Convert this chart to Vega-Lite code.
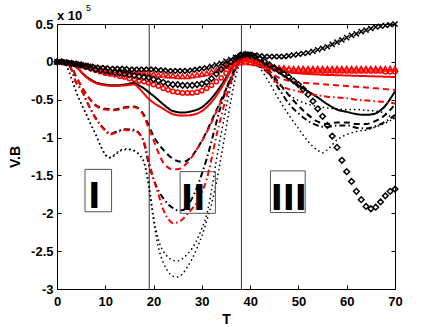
{
"$schema":"https://vega.github.io/schema/vega-lite/v6.json",
"width":338,"height":265,
"autosize":{"type":"none"},
"padding":{"left":57,"top":24,"right":41,"bottom":38},
"background":"white",
"config":{"view":{"stroke":"black","strokeWidth":1},"font":"Liberation Sans"},
"datasets":{
"lines":[
{"s":"ks","x":0,"y":0},{"s":"ks","x":2,"y":-0.01},{"s":"ks","x":4,"y":-0.07},{"s":"ks","x":6,"y":-0.19},{"s":"ks","x":8,"y":-0.27},{"s":"ks","x":10,"y":-0.3},{"s":"ks","x":12,"y":-0.31},{"s":"ks","x":14,"y":-0.3},{"s":"ks","x":16,"y":-0.28},{"s":"ks","x":17,"y":-0.31},{"s":"ks","x":18,"y":-0.35},{"s":"ks","x":19,"y":-0.4},{"s":"ks","x":20,"y":-0.45},{"s":"ks","x":22,"y":-0.56},{"s":"ks","x":24,"y":-0.65},{"s":"ks","x":26,"y":-0.67},{"s":"ks","x":28,"y":-0.65},{"s":"ks","x":30,"y":-0.6},{"s":"ks","x":32,"y":-0.48},{"s":"ks","x":34,"y":-0.31},{"s":"ks","x":36,"y":-0.1},{"s":"ks","x":37,"y":0.02},{"s":"ks","x":38,"y":0.08},{"s":"ks","x":39,"y":0.1},{"s":"ks","x":40,"y":0.09},{"s":"ks","x":42,"y":0.02},{"s":"ks","x":44,"y":-0.05},{"s":"ks","x":46,"y":-0.14},{"s":"ks","x":48,"y":-0.23},{"s":"ks","x":50,"y":-0.31},{"s":"ks","x":52,"y":-0.39},{"s":"ks","x":54,"y":-0.47},{"s":"ks","x":56,"y":-0.56},{"s":"ks","x":58,"y":-0.63},{"s":"ks","x":60,"y":-0.66},{"s":"ks","x":62,"y":-0.69},{"s":"ks","x":64,"y":-0.7},{"s":"ks","x":66,"y":-0.68},{"s":"ks","x":67,"y":-0.64},{"s":"ks","x":68,"y":-0.58},{"s":"ks","x":69,"y":-0.49},{"s":"ks","x":70,"y":-0.39},
{"s":"rs","x":0,"y":0},{"s":"rs","x":2,"y":-0.01},{"s":"rs","x":4,"y":-0.07},{"s":"rs","x":6,"y":-0.2},{"s":"rs","x":8,"y":-0.28},{"s":"rs","x":10,"y":-0.31},{"s":"rs","x":12,"y":-0.32},{"s":"rs","x":14,"y":-0.31},{"s":"rs","x":16,"y":-0.3},{"s":"rs","x":17,"y":-0.35},{"s":"rs","x":18,"y":-0.42},{"s":"rs","x":19,"y":-0.49},{"s":"rs","x":20,"y":-0.54},{"s":"rs","x":22,"y":-0.62},{"s":"rs","x":24,"y":-0.69},{"s":"rs","x":26,"y":-0.71},{"s":"rs","x":28,"y":-0.7},{"s":"rs","x":30,"y":-0.65},{"s":"rs","x":32,"y":-0.53},{"s":"rs","x":34,"y":-0.35},{"s":"rs","x":36,"y":-0.12},{"s":"rs","x":37,"y":0},{"s":"rs","x":38,"y":0.05},{"s":"rs","x":39,"y":0.06},{"s":"rs","x":40,"y":0.04},{"s":"rs","x":42,"y":-0.02},{"s":"rs","x":44,"y":-0.08},{"s":"rs","x":46,"y":-0.12},{"s":"rs","x":50,"y":-0.15},{"s":"rs","x":55,"y":-0.17},{"s":"rs","x":60,"y":-0.18},{"s":"rs","x":65,"y":-0.19},{"s":"rs","x":70,"y":-0.2},
{"s":"kd","x":0,"y":0},{"s":"kd","x":2,"y":-0.02},{"s":"kd","x":3,"y":-0.07},{"s":"kd","x":4,"y":-0.2},{"s":"kd","x":6,"y":-0.42},{"s":"kd","x":8,"y":-0.57},{"s":"kd","x":10,"y":-0.62},{"s":"kd","x":12,"y":-0.63},{"s":"kd","x":14,"y":-0.6},{"s":"kd","x":16,"y":-0.59},{"s":"kd","x":17,"y":-0.62},{"s":"kd","x":18,"y":-0.7},{"s":"kd","x":19,"y":-0.84},{"s":"kd","x":20,"y":-0.98},{"s":"kd","x":22,"y":-1.16},{"s":"kd","x":24,"y":-1.28},{"s":"kd","x":26,"y":-1.32},{"s":"kd","x":27,"y":-1.3},{"s":"kd","x":28,"y":-1.24},{"s":"kd","x":29,"y":-1.15},{"s":"kd","x":30,"y":-1.04},{"s":"kd","x":31,"y":-0.92},{"s":"kd","x":32,"y":-0.78},{"s":"kd","x":33,"y":-0.64},{"s":"kd","x":34,"y":-0.5},{"s":"kd","x":35,"y":-0.36},{"s":"kd","x":36,"y":-0.22},{"s":"kd","x":37,"y":-0.08},{"s":"kd","x":38,"y":0.04},{"s":"kd","x":40,"y":0.08},{"s":"kd","x":42,"y":0},{"s":"kd","x":44,"y":-0.12},{"s":"kd","x":46,"y":-0.28},{"s":"kd","x":48,"y":-0.44},{"s":"kd","x":50,"y":-0.58},{"s":"kd","x":52,"y":-0.7},{"s":"kd","x":54,"y":-0.79},{"s":"kd","x":56,"y":-0.82},{"s":"kd","x":58,"y":-0.8},{"s":"kd","x":60,"y":-0.8},{"s":"kd","x":62,"y":-0.82},{"s":"kd","x":64,"y":-0.82},{"s":"kd","x":66,"y":-0.78},{"s":"kd","x":68,"y":-0.7},{"s":"kd","x":70,"y":-0.56},
{"s":"rd","x":0,"y":0},{"s":"rd","x":2,"y":-0.02},{"s":"rd","x":3,"y":-0.07},{"s":"rd","x":4,"y":-0.2},{"s":"rd","x":6,"y":-0.42},{"s":"rd","x":8,"y":-0.58},{"s":"rd","x":10,"y":-0.63},{"s":"rd","x":12,"y":-0.64},{"s":"rd","x":14,"y":-0.61},{"s":"rd","x":16,"y":-0.6},{"s":"rd","x":17,"y":-0.63},{"s":"rd","x":18,"y":-0.72},{"s":"rd","x":19,"y":-0.88},{"s":"rd","x":20,"y":-1.03},{"s":"rd","x":21,"y":-1.2},{"s":"rd","x":22,"y":-1.33},{"s":"rd","x":24,"y":-1.42},{"s":"rd","x":25,"y":-1.42},{"s":"rd","x":26,"y":-1.39},{"s":"rd","x":27,"y":-1.33},{"s":"rd","x":28,"y":-1.25},{"s":"rd","x":29,"y":-1.15},{"s":"rd","x":30,"y":-1.05},{"s":"rd","x":31,"y":-0.93},{"s":"rd","x":32,"y":-0.8},{"s":"rd","x":33,"y":-0.66},{"s":"rd","x":34,"y":-0.52},{"s":"rd","x":35,"y":-0.38},{"s":"rd","x":36,"y":-0.23},{"s":"rd","x":37,"y":-0.09},{"s":"rd","x":38,"y":0.03},{"s":"rd","x":40,"y":0.04},{"s":"rd","x":42,"y":-0.04},{"s":"rd","x":44,"y":-0.14},{"s":"rd","x":46,"y":-0.21},{"s":"rd","x":48,"y":-0.25},{"s":"rd","x":50,"y":-0.27},{"s":"rd","x":54,"y":-0.29},{"s":"rd","x":58,"y":-0.31},{"s":"rd","x":62,"y":-0.33},{"s":"rd","x":66,"y":-0.35},{"s":"rd","x":70,"y":-0.37},
{"s":"kdd","x":0,"y":0},{"s":"kdd","x":2,"y":-0.03},{"s":"kdd","x":3,"y":-0.1},{"s":"kdd","x":4,"y":-0.28},{"s":"kdd","x":5,"y":-0.36},{"s":"kdd","x":6,"y":-0.5},{"s":"kdd","x":8,"y":-0.74},{"s":"kdd","x":10,"y":-0.9},{"s":"kdd","x":11,"y":-0.95},{"s":"kdd","x":12,"y":-0.93},{"s":"kdd","x":14,"y":-0.89},{"s":"kdd","x":16,"y":-0.9},{"s":"kdd","x":17,"y":-0.94},{"s":"kdd","x":18,"y":-1.07},{"s":"kdd","x":19,"y":-1.35},{"s":"kdd","x":20,"y":-1.55},{"s":"kdd","x":21,"y":-1.7},{"s":"kdd","x":22,"y":-1.8},{"s":"kdd","x":23,"y":-1.88},{"s":"kdd","x":24,"y":-1.93},{"s":"kdd","x":25,"y":-1.96},{"s":"kdd","x":26,"y":-1.96},{"s":"kdd","x":27,"y":-1.9},{"s":"kdd","x":28,"y":-1.8},{"s":"kdd","x":29,"y":-1.66},{"s":"kdd","x":30,"y":-1.48},{"s":"kdd","x":31,"y":-1.28},{"s":"kdd","x":32,"y":-1.05},{"s":"kdd","x":33,"y":-0.8},{"s":"kdd","x":34,"y":-0.57},{"s":"kdd","x":35,"y":-0.37},{"s":"kdd","x":36,"y":-0.2},{"s":"kdd","x":37,"y":-0.07},{"s":"kdd","x":38,"y":0.04},{"s":"kdd","x":40,"y":0.08},{"s":"kdd","x":42,"y":-0.02},{"s":"kdd","x":44,"y":-0.16},{"s":"kdd","x":46,"y":-0.36},{"s":"kdd","x":48,"y":-0.55},{"s":"kdd","x":50,"y":-0.68},{"s":"kdd","x":52,"y":-0.78},{"s":"kdd","x":54,"y":-0.84},{"s":"kdd","x":56,"y":-0.86},{"s":"kdd","x":58,"y":-0.84},{"s":"kdd","x":60,"y":-0.84},{"s":"kdd","x":62,"y":-0.87},{"s":"kdd","x":64,"y":-0.88},{"s":"kdd","x":66,"y":-0.85},{"s":"kdd","x":68,"y":-0.79},{"s":"kdd","x":70,"y":-0.7},
{"s":"rdd","x":0,"y":0},{"s":"rdd","x":2,"y":-0.03},{"s":"rdd","x":3,"y":-0.1},{"s":"rdd","x":4,"y":-0.28},{"s":"rdd","x":5,"y":-0.36},{"s":"rdd","x":6,"y":-0.5},{"s":"rdd","x":8,"y":-0.75},{"s":"rdd","x":10,"y":-0.91},{"s":"rdd","x":11,"y":-0.96},{"s":"rdd","x":12,"y":-0.94},{"s":"rdd","x":14,"y":-0.9},{"s":"rdd","x":16,"y":-0.91},{"s":"rdd","x":17,"y":-0.95},{"s":"rdd","x":18,"y":-1.05},{"s":"rdd","x":19,"y":-1.3},{"s":"rdd","x":20,"y":-1.55},{"s":"rdd","x":21,"y":-1.75},{"s":"rdd","x":22,"y":-1.95},{"s":"rdd","x":23,"y":-2.07},{"s":"rdd","x":24,"y":-2.13},{"s":"rdd","x":25,"y":-2.12},{"s":"rdd","x":26,"y":-2.08},{"s":"rdd","x":27,"y":-2.01},{"s":"rdd","x":28,"y":-1.94},{"s":"rdd","x":29,"y":-1.85},{"s":"rdd","x":30,"y":-1.72},{"s":"rdd","x":31,"y":-1.55},{"s":"rdd","x":32,"y":-1.28},{"s":"rdd","x":33,"y":-0.98},{"s":"rdd","x":34,"y":-0.72},{"s":"rdd","x":35,"y":-0.48},{"s":"rdd","x":36,"y":-0.27},{"s":"rdd","x":37,"y":-0.1},{"s":"rdd","x":38,"y":0.02},{"s":"rdd","x":40,"y":0.04},{"s":"rdd","x":42,"y":-0.05},{"s":"rdd","x":44,"y":-0.17},{"s":"rdd","x":46,"y":-0.3},{"s":"rdd","x":48,"y":-0.36},{"s":"rdd","x":50,"y":-0.39},{"s":"rdd","x":52,"y":-0.42},{"s":"rdd","x":54,"y":-0.44},{"s":"rdd","x":56,"y":-0.46},{"s":"rdd","x":58,"y":-0.47},{"s":"rdd","x":60,"y":-0.48},{"s":"rdd","x":62,"y":-0.5},{"s":"rdd","x":64,"y":-0.51},{"s":"rdd","x":66,"y":-0.52},{"s":"rdd","x":68,"y":-0.53},{"s":"rdd","x":70,"y":-0.55},
{"s":"kdt","x":0,"y":0},{"s":"kdt","x":1,"y":-0.01},{"s":"kdt","x":2,"y":-0.06},{"s":"kdt","x":3,"y":-0.22},{"s":"kdt","x":4,"y":-0.4},{"s":"kdt","x":5,"y":-0.55},{"s":"kdt","x":6,"y":-0.68},{"s":"kdt","x":7,"y":-0.82},{"s":"kdt","x":8,"y":-0.95},{"s":"kdt","x":9,"y":-1.1},{"s":"kdt","x":10,"y":-1.22},{"s":"kdt","x":11,"y":-1.26},{"s":"kdt","x":12,"y":-1.22},{"s":"kdt","x":13,"y":-1.17},{"s":"kdt","x":14,"y":-1.15},{"s":"kdt","x":15,"y":-1.15},{"s":"kdt","x":16,"y":-1.17},{"s":"kdt","x":17,"y":-1.22},{"s":"kdt","x":18,"y":-1.32},{"s":"kdt","x":19,"y":-1.6},{"s":"kdt","x":20,"y":-2.05},{"s":"kdt","x":21,"y":-2.35},{"s":"kdt","x":22,"y":-2.5},{"s":"kdt","x":23,"y":-2.58},{"s":"kdt","x":24,"y":-2.62},{"s":"kdt","x":25,"y":-2.63},{"s":"kdt","x":26,"y":-2.6},{"s":"kdt","x":27,"y":-2.54},{"s":"kdt","x":28,"y":-2.46},{"s":"kdt","x":29,"y":-2.35},{"s":"kdt","x":30,"y":-2.2},{"s":"kdt","x":31,"y":-2.02},{"s":"kdt","x":32,"y":-1.7},{"s":"kdt","x":33,"y":-1.3},{"s":"kdt","x":34,"y":-0.95},{"s":"kdt","x":35,"y":-0.62},{"s":"kdt","x":36,"y":-0.32},{"s":"kdt","x":37,"y":-0.1},{"s":"kdt","x":38,"y":0.03},{"s":"kdt","x":39,"y":0.07},{"s":"kdt","x":40,"y":0.05},{"s":"kdt","x":42,"y":-0.08},{"s":"kdt","x":44,"y":-0.28},{"s":"kdt","x":46,"y":-0.5},{"s":"kdt","x":48,"y":-0.7},{"s":"kdt","x":50,"y":-0.88},{"s":"kdt","x":52,"y":-1.05},{"s":"kdt","x":54,"y":-1.17},{"s":"kdt","x":55,"y":-1.2},{"s":"kdt","x":56,"y":-1.16},{"s":"kdt","x":58,"y":-1.03},{"s":"kdt","x":60,"y":-0.96},{"s":"kdt","x":62,"y":-0.92},{"s":"kdt","x":64,"y":-0.9},{"s":"kdt","x":66,"y":-0.86},{"s":"kdt","x":68,"y":-0.81},{"s":"kdt","x":70,"y":-0.74},
{"s":"rdt","x":0,"y":0},{"s":"rdt","x":1,"y":-0.01},{"s":"rdt","x":2,"y":-0.06},{"s":"rdt","x":3,"y":-0.22},{"s":"rdt","x":4,"y":-0.4},{"s":"rdt","x":5,"y":-0.55},{"s":"rdt","x":6,"y":-0.69},{"s":"rdt","x":7,"y":-0.83},{"s":"rdt","x":8,"y":-0.96},{"s":"rdt","x":9,"y":-1.11},{"s":"rdt","x":10,"y":-1.23},{"s":"rdt","x":11,"y":-1.27},{"s":"rdt","x":12,"y":-1.23},{"s":"rdt","x":13,"y":-1.18},{"s":"rdt","x":14,"y":-1.16},{"s":"rdt","x":15,"y":-1.16},{"s":"rdt","x":16,"y":-1.18},{"s":"rdt","x":17,"y":-1.23},{"s":"rdt","x":18,"y":-1.33},{"s":"rdt","x":19,"y":-1.65},{"s":"rdt","x":20,"y":-2.1},{"s":"rdt","x":21,"y":-2.45},{"s":"rdt","x":22,"y":-2.65},{"s":"rdt","x":23,"y":-2.77},{"s":"rdt","x":24,"y":-2.83},{"s":"rdt","x":25,"y":-2.84},{"s":"rdt","x":26,"y":-2.8},{"s":"rdt","x":27,"y":-2.71},{"s":"rdt","x":28,"y":-2.6},{"s":"rdt","x":29,"y":-2.46},{"s":"rdt","x":30,"y":-2.3},{"s":"rdt","x":31,"y":-2.1},{"s":"rdt","x":32,"y":-1.88},{"s":"rdt","x":33,"y":-1.6},{"s":"rdt","x":34,"y":-1.25},{"s":"rdt","x":35,"y":-0.88},{"s":"rdt","x":36,"y":-0.52},{"s":"rdt","x":37,"y":-0.2},{"s":"rdt","x":38,"y":0},{"s":"rdt","x":39,"y":0.05},{"s":"rdt","x":40,"y":0.04},{"s":"rdt","x":42,"y":-0.06},{"s":"rdt","x":44,"y":-0.16},{"s":"rdt","x":46,"y":-0.3},{"s":"rdt","x":48,"y":-0.43},{"s":"rdt","x":50,"y":-0.51},{"s":"rdt","x":52,"y":-0.56},{"s":"rdt","x":54,"y":-0.59},{"s":"rdt","x":56,"y":-0.61},{"s":"rdt","x":58,"y":-0.62},{"s":"rdt","x":60,"y":-0.63},{"s":"rdt","x":62,"y":-0.63},{"s":"rdt","x":64,"y":-0.64},{"s":"rdt","x":66,"y":-0.65},{"s":"rdt","x":68,"y":-0.68},{"s":"rdt","x":69,"y":-0.72},{"s":"rdt","x":70,"y":-0.76}
],
"markers":[
{"s":"rtri","x":0,"y":0},{"s":"rtri","x":1,"y":0},{"s":"rtri","x":2,"y":-0.01},{"s":"rtri","x":3,"y":-0.02},{"s":"rtri","x":4,"y":-0.03},{"s":"rtri","x":5,"y":-0.04},{"s":"rtri","x":6,"y":-0.05},{"s":"rtri","x":7,"y":-0.06},{"s":"rtri","x":8,"y":-0.08},{"s":"rtri","x":9,"y":-0.09},{"s":"rtri","x":10,"y":-0.1},{"s":"rtri","x":11,"y":-0.11},{"s":"rtri","x":12,"y":-0.11},{"s":"rtri","x":13,"y":-0.12},{"s":"rtri","x":14,"y":-0.12},{"s":"rtri","x":15,"y":-0.13},{"s":"rtri","x":16,"y":-0.13},{"s":"rtri","x":17,"y":-0.14},{"s":"rtri","x":18,"y":-0.15},{"s":"rtri","x":19,"y":-0.15},{"s":"rtri","x":20,"y":-0.16},{"s":"rtri","x":21,"y":-0.17},{"s":"rtri","x":22,"y":-0.17},{"s":"rtri","x":23,"y":-0.18},{"s":"rtri","x":24,"y":-0.18},{"s":"rtri","x":25,"y":-0.19},{"s":"rtri","x":26,"y":-0.19},{"s":"rtri","x":27,"y":-0.19},{"s":"rtri","x":28,"y":-0.18},{"s":"rtri","x":29,"y":-0.17},{"s":"rtri","x":30,"y":-0.16},{"s":"rtri","x":31,"y":-0.15},{"s":"rtri","x":32,"y":-0.13},{"s":"rtri","x":33,"y":-0.11},{"s":"rtri","x":34,"y":-0.08},{"s":"rtri","x":35,"y":-0.06},{"s":"rtri","x":36,"y":-0.04},{"s":"rtri","x":37,"y":-0.02},{"s":"rtri","x":38,"y":-0.01},{"s":"rtri","x":39,"y":0},{"s":"rtri","x":40,"y":-0.01},{"s":"rtri","x":41,"y":-0.02},{"s":"rtri","x":42,"y":-0.03},{"s":"rtri","x":43,"y":-0.05},{"s":"rtri","x":44,"y":-0.06},{"s":"rtri","x":45,"y":-0.07},{"s":"rtri","x":46,"y":-0.08},{"s":"rtri","x":47,"y":-0.08},{"s":"rtri","x":48,"y":-0.09},{"s":"rtri","x":49,"y":-0.09},{"s":"rtri","x":50,"y":-0.09},{"s":"rtri","x":51,"y":-0.09},{"s":"rtri","x":52,"y":-0.09},{"s":"rtri","x":53,"y":-0.09},{"s":"rtri","x":54,"y":-0.09},{"s":"rtri","x":55,"y":-0.09},{"s":"rtri","x":56,"y":-0.09},{"s":"rtri","x":57,"y":-0.09},{"s":"rtri","x":58,"y":-0.09},{"s":"rtri","x":59,"y":-0.09},{"s":"rtri","x":60,"y":-0.09},{"s":"rtri","x":61,"y":-0.09},{"s":"rtri","x":62,"y":-0.09},{"s":"rtri","x":63,"y":-0.09},{"s":"rtri","x":64,"y":-0.09},{"s":"rtri","x":65,"y":-0.09},{"s":"rtri","x":66,"y":-0.09},{"s":"rtri","x":67,"y":-0.09},{"s":"rtri","x":68,"y":-0.09},{"s":"rtri","x":69,"y":-0.09},{"s":"rtri","x":70,"y":-0.09},
{"s":"rcirc","x":0,"y":0},{"s":"rcirc","x":1,"y":0},{"s":"rcirc","x":2,"y":-0.01},{"s":"rcirc","x":3,"y":-0.02},{"s":"rcirc","x":4,"y":-0.03},{"s":"rcirc","x":5,"y":-0.05},{"s":"rcirc","x":6,"y":-0.07},{"s":"rcirc","x":7,"y":-0.09},{"s":"rcirc","x":8,"y":-0.11},{"s":"rcirc","x":9,"y":-0.13},{"s":"rcirc","x":10,"y":-0.15},{"s":"rcirc","x":11,"y":-0.16},{"s":"rcirc","x":12,"y":-0.17},{"s":"rcirc","x":13,"y":-0.19},{"s":"rcirc","x":14,"y":-0.2},{"s":"rcirc","x":15,"y":-0.22},{"s":"rcirc","x":16,"y":-0.23},{"s":"rcirc","x":17,"y":-0.25},{"s":"rcirc","x":18,"y":-0.26},{"s":"rcirc","x":19,"y":-0.28},{"s":"rcirc","x":20,"y":-0.3},{"s":"rcirc","x":21,"y":-0.32},{"s":"rcirc","x":22,"y":-0.35},{"s":"rcirc","x":23,"y":-0.37},{"s":"rcirc","x":24,"y":-0.39},{"s":"rcirc","x":25,"y":-0.4},{"s":"rcirc","x":26,"y":-0.41},{"s":"rcirc","x":27,"y":-0.41},{"s":"rcirc","x":28,"y":-0.41},{"s":"rcirc","x":29,"y":-0.4},{"s":"rcirc","x":30,"y":-0.38},{"s":"rcirc","x":31,"y":-0.35},{"s":"rcirc","x":32,"y":-0.31},{"s":"rcirc","x":33,"y":-0.26},{"s":"rcirc","x":34,"y":-0.21},{"s":"rcirc","x":35,"y":-0.15},{"s":"rcirc","x":36,"y":-0.09},{"s":"rcirc","x":37,"y":-0.03},{"s":"rcirc","x":38,"y":0.02},{"s":"rcirc","x":39,"y":0.03},{"s":"rcirc","x":40,"y":0.02},{"s":"rcirc","x":41,"y":0},{"s":"rcirc","x":42,"y":-0.03},{"s":"rcirc","x":43,"y":-0.05},{"s":"rcirc","x":44,"y":-0.07},{"s":"rcirc","x":45,"y":-0.09},{"s":"rcirc","x":46,"y":-0.1},{"s":"rcirc","x":47,"y":-0.11},{"s":"rcirc","x":48,"y":-0.11},{"s":"rcirc","x":49,"y":-0.12},{"s":"rcirc","x":50,"y":-0.12},{"s":"rcirc","x":51,"y":-0.12},{"s":"rcirc","x":52,"y":-0.12},{"s":"rcirc","x":53,"y":-0.12},{"s":"rcirc","x":54,"y":-0.12},{"s":"rcirc","x":55,"y":-0.12},{"s":"rcirc","x":56,"y":-0.12},{"s":"rcirc","x":57,"y":-0.12},{"s":"rcirc","x":58,"y":-0.12},{"s":"rcirc","x":59,"y":-0.12},{"s":"rcirc","x":60,"y":-0.12},{"s":"rcirc","x":61,"y":-0.12},{"s":"rcirc","x":62,"y":-0.12},{"s":"rcirc","x":63,"y":-0.12},{"s":"rcirc","x":64,"y":-0.12},{"s":"rcirc","x":65,"y":-0.12},{"s":"rcirc","x":66,"y":-0.12},{"s":"rcirc","x":67,"y":-0.12},{"s":"rcirc","x":68,"y":-0.13},{"s":"rcirc","x":69,"y":-0.13},{"s":"rcirc","x":70,"y":-0.13},
{"s":"kdia","x":0,"y":0},{"s":"kdia","x":1,"y":0},{"s":"kdia","x":2,"y":-0.01},{"s":"kdia","x":3,"y":-0.02},{"s":"kdia","x":4,"y":-0.03},{"s":"kdia","x":5,"y":-0.04},{"s":"kdia","x":6,"y":-0.06},{"s":"kdia","x":7,"y":-0.08},{"s":"kdia","x":8,"y":-0.1},{"s":"kdia","x":9,"y":-0.11},{"s":"kdia","x":10,"y":-0.12},{"s":"kdia","x":11,"y":-0.13},{"s":"kdia","x":12,"y":-0.14},{"s":"kdia","x":13,"y":-0.15},{"s":"kdia","x":14,"y":-0.16},{"s":"kdia","x":15,"y":-0.17},{"s":"kdia","x":16,"y":-0.18},{"s":"kdia","x":17,"y":-0.19},{"s":"kdia","x":18,"y":-0.2},{"s":"kdia","x":19,"y":-0.21},{"s":"kdia","x":20,"y":-0.23},{"s":"kdia","x":21,"y":-0.25},{"s":"kdia","x":22,"y":-0.27},{"s":"kdia","x":23,"y":-0.29},{"s":"kdia","x":24,"y":-0.3},{"s":"kdia","x":25,"y":-0.3},{"s":"kdia","x":26,"y":-0.31},{"s":"kdia","x":27,"y":-0.31},{"s":"kdia","x":28,"y":-0.31},{"s":"kdia","x":29,"y":-0.3},{"s":"kdia","x":30,"y":-0.29},{"s":"kdia","x":31,"y":-0.27},{"s":"kdia","x":32,"y":-0.22},{"s":"kdia","x":33,"y":-0.16},{"s":"kdia","x":34,"y":-0.1},{"s":"kdia","x":35,"y":-0.04},{"s":"kdia","x":36,"y":0},{"s":"kdia","x":37,"y":0.05},{"s":"kdia","x":38,"y":0.09},{"s":"kdia","x":39,"y":0.1},{"s":"kdia","x":40,"y":0.09},{"s":"kdia","x":41,"y":0.07},{"s":"kdia","x":42,"y":0.04},{"s":"kdia","x":43,"y":0},{"s":"kdia","x":44,"y":-0.04},{"s":"kdia","x":45,"y":-0.08},{"s":"kdia","x":46,"y":-0.12},{"s":"kdia","x":47,"y":-0.16},{"s":"kdia","x":48,"y":-0.2},{"s":"kdia","x":49,"y":-0.25},{"s":"kdia","x":50,"y":-0.3},{"s":"kdia","x":51,"y":-0.36},{"s":"kdia","x":52,"y":-0.43},{"s":"kdia","x":53,"y":-0.52},{"s":"kdia","x":54,"y":-0.62},{"s":"kdia","x":55,"y":-0.72},{"s":"kdia","x":56,"y":-0.84},{"s":"kdia","x":57,"y":-0.98},{"s":"kdia","x":58,"y":-1.13},{"s":"kdia","x":59,"y":-1.3},{"s":"kdia","x":60,"y":-1.45},{"s":"kdia","x":61,"y":-1.58},{"s":"kdia","x":62,"y":-1.71},{"s":"kdia","x":63,"y":-1.82},{"s":"kdia","x":64,"y":-1.91},{"s":"kdia","x":65,"y":-1.94},{"s":"kdia","x":66,"y":-1.92},{"s":"kdia","x":67,"y":-1.85},{"s":"kdia","x":68,"y":-1.77},{"s":"kdia","x":69,"y":-1.71},{"s":"kdia","x":70,"y":-1.68},
{"s":"kx","x":0,"y":0},{"s":"kx","x":1,"y":0},{"s":"kx","x":2,"y":-0.01},{"s":"kx","x":3,"y":-0.02},{"s":"kx","x":4,"y":-0.03},{"s":"kx","x":5,"y":-0.04},{"s":"kx","x":6,"y":-0.05},{"s":"kx","x":7,"y":-0.06},{"s":"kx","x":8,"y":-0.07},{"s":"kx","x":9,"y":-0.08},{"s":"kx","x":10,"y":-0.08},{"s":"kx","x":11,"y":-0.09},{"s":"kx","x":12,"y":-0.09},{"s":"kx","x":13,"y":-0.09},{"s":"kx","x":14,"y":-0.09},{"s":"kx","x":15,"y":-0.1},{"s":"kx","x":16,"y":-0.1},{"s":"kx","x":17,"y":-0.1},{"s":"kx","x":18,"y":-0.1},{"s":"kx","x":19,"y":-0.1},{"s":"kx","x":20,"y":-0.1},{"s":"kx","x":21,"y":-0.11},{"s":"kx","x":22,"y":-0.11},{"s":"kx","x":23,"y":-0.12},{"s":"kx","x":24,"y":-0.12},{"s":"kx","x":25,"y":-0.12},{"s":"kx","x":26,"y":-0.12},{"s":"kx","x":27,"y":-0.12},{"s":"kx","x":28,"y":-0.11},{"s":"kx","x":29,"y":-0.1},{"s":"kx","x":30,"y":-0.09},{"s":"kx","x":31,"y":-0.08},{"s":"kx","x":32,"y":-0.06},{"s":"kx","x":33,"y":-0.04},{"s":"kx","x":34,"y":-0.02},{"s":"kx","x":35,"y":0.01},{"s":"kx","x":36,"y":0.03},{"s":"kx","x":37,"y":0.06},{"s":"kx","x":38,"y":0.08},{"s":"kx","x":39,"y":0.1},{"s":"kx","x":40,"y":0.1},{"s":"kx","x":41,"y":0.09},{"s":"kx","x":42,"y":0.08},{"s":"kx","x":43,"y":0.07},{"s":"kx","x":44,"y":0.07},{"s":"kx","x":45,"y":0.07},{"s":"kx","x":46,"y":0.07},{"s":"kx","x":47,"y":0.07},{"s":"kx","x":48,"y":0.08},{"s":"kx","x":49,"y":0.09},{"s":"kx","x":50,"y":0.1},{"s":"kx","x":51,"y":0.11},{"s":"kx","x":52,"y":0.12},{"s":"kx","x":53,"y":0.14},{"s":"kx","x":54,"y":0.16},{"s":"kx","x":55,"y":0.18},{"s":"kx","x":56,"y":0.2},{"s":"kx","x":57,"y":0.23},{"s":"kx","x":58,"y":0.26},{"s":"kx","x":59,"y":0.29},{"s":"kx","x":60,"y":0.32},{"s":"kx","x":61,"y":0.35},{"s":"kx","x":62,"y":0.37},{"s":"kx","x":63,"y":0.4},{"s":"kx","x":64,"y":0.42},{"s":"kx","x":65,"y":0.44},{"s":"kx","x":66,"y":0.46},{"s":"kx","x":67,"y":0.47},{"s":"kx","x":68,"y":0.48},{"s":"kx","x":69,"y":0.49},{"s":"kx","x":70,"y":0.5}
],
"boxes":[
{"label":"I","x1":5.8,"x2":11.3,"y1":-1.42,"y2":-1.98,"tx":7.7,"ty":-1.93},
{"label":"II","x1":25.5,"x2":32.8,"y1":-1.45,"y2":-2.0,"tx":28.2,"ty":-1.95},
{"label":"III","x1":44.2,"x2":51.4,"y1":-1.44,"y2":-1.99,"tx":48.0,"ty":-1.95}
],
"vlines":[{"x":19.1},{"x":38.2}]
},
"layer":[
{"data":{"name":"vlines"},"mark":{"type":"rule","color":"#333333","strokeWidth":1},
 "encoding":{"x":{"field":"x","type":"quantitative","scale":{"domain":[0,70],"nice":false,"zero":false},"axis":null}}},
{"data":{"name":"lines"},"transform":[{"filter":"datum.s!='kdt' && datum.s!='rdt'"}],
 "mark":{"type":"line","strokeWidth":2,"interpolate":"monotone"},
 "encoding":{
  "x":{"field":"x","type":"quantitative","scale":{"domain":[0,70],"nice":false,"zero":false},
   "axis":{"orient":"bottom","values":[0,10,20,30,40,50,60,70],"tickSize":-4,"labelPadding":10,"labelFont":"Liberation Sans","labelFontWeight":"bold","labelFontSize":13,"labelColor":"black","domainColor":"black","tickColor":"black","grid":false,"title":"T","titleFont":"Liberation Sans","titleFontSize":14,"titleFontWeight":"bold","titleColor":"black","titlePadding":4,"labelFlush":false}},
  "y":{"field":"y","type":"quantitative","scale":{"domain":[-3,0.5],"nice":false,"zero":false},
   "axis":{"orient":"left","values":[-3,-2.5,-2,-1.5,-1,-0.5,0,0.5],"labelExpr":"''+datum.value","tickSize":-4,"labelPadding":8,"labelFont":"Liberation Sans","labelFontWeight":"bold","labelFontSize":13,"labelColor":"black","domainColor":"black","tickColor":"black","grid":false,"title":"V.B","titleFont":"Liberation Sans","titleFontSize":14,"titleFontWeight":"bold","titleColor":"black","titlePadding":8,"labelFlush":false}},
  "detail":{"field":"s"},
  "color":{"field":"s","type":"nominal","scale":{"domain":["ks","kd","kdd","rs","rd","rdd"],"range":["#000000","#000000","#000000","#ff0000","#ff0000","#ff0000"]},"legend":null},
  "strokeDash":{"field":"s","type":"nominal","scale":{"domain":["ks","kd","kdd","rs","rd","rdd"],"range":[[1,0],[6,4],[6,3,1.5,3],[1,0],[6,4],[6,3,1.5,3]]},"legend":null},
  "order":{"field":"x","type":"quantitative"}
 }},
{"data":{"name":"lines"},"transform":[{"filter":"datum.s=='kdt' || datum.s=='rdt'"}],
 "mark":{"type":"line","strokeWidth":1.5,"interpolate":"monotone","strokeDash":[1.5,3]},
 "encoding":{
  "x":{"field":"x","type":"quantitative","scale":{"domain":[0,70],"nice":false,"zero":false},"axis":null},
  "y":{"field":"y","type":"quantitative","scale":{"domain":[-3,0.5],"nice":false,"zero":false},"axis":null},
  "detail":{"field":"s"},
  "color":{"field":"s","type":"nominal","scale":{"domain":["kdt","rdt"],"range":["#000000","#ff0000"]},"legend":null},
  "order":{"field":"x","type":"quantitative"}
 }},
{"data":{"name":"markers"},
 "mark":{"type":"point","filled":false,"strokeWidth":1.5,"opacity":1},
 "encoding":{
  "x":{"field":"x","type":"quantitative","scale":{"domain":[0,70],"nice":false,"zero":false},
   "axis":{"orient":"top","values":[0,10,20,30,40,50,60,70],"tickSize":-4,"labels":false,"title":null,"domainColor":"black","tickColor":"black","grid":false}},
  "y":{"field":"y","type":"quantitative","scale":{"domain":[-3,0.5],"nice":false,"zero":false},
   "axis":{"orient":"right","values":[-3,-2.5,-2,-1.5,-1,-0.5,0,0.5],"tickSize":-4,"labels":false,"title":null,"domainColor":"black","tickColor":"black","grid":false}},
  "shape":{"field":"s","type":"nominal","scale":{"domain":["kx","kdia","rtri","rcirc"],"range":["M-1,-1L1,1M-1,1L1,-1","diamond","triangle-up","circle"]},"legend":null},
  "size":{"field":"s","type":"nominal","scale":{"type":"ordinal","domain":["kx","kdia","rtri","rcirc"],"range":[26,32,26,18]},"legend":null},
  "stroke":{"field":"s","type":"nominal","scale":{"domain":["kx","kdia","rtri","rcirc"],"range":["#000000","#000000","#ff0000","#ff0000"]},"legend":null}
 }},
{"data":{"name":"boxes"},
 "mark":{"type":"rect","fillOpacity":0,"fill":"white","stroke":"#555555","strokeWidth":1},
 "encoding":{
  "x":{"field":"x1","type":"quantitative","scale":{"domain":[0,70],"nice":false,"zero":false},"axis":null},
  "x2":{"field":"x2"},
  "y":{"field":"y1","type":"quantitative","scale":{"domain":[-3,0.5],"nice":false,"zero":false},"axis":null},
  "y2":{"field":"y2"}
 }},
{"data":{"name":"boxes"},
 "mark":{"type":"text","font":"DejaVu Sans Condensed, Liberation Sans, sans-serif","fontWeight":"bold","fontSize":36,"baseline":"alphabetic","align":"center","color":"black"},
 "encoding":{
  "x":{"field":"tx","type":"quantitative","scale":{"domain":[0,70],"nice":false,"zero":false},"axis":null},
  "y":{"field":"ty","type":"quantitative","scale":{"domain":[-3,0.5],"nice":false,"zero":false},"axis":null},
  "text":{"field":"label"}
 }},
{"data":{"values":[{"t":"x 10","x":0,"y":0.5}]},
 "mark":{"type":"text","font":"Liberation Sans","fontWeight":"bold","fontSize":13,"align":"left","baseline":"alphabetic","dy":-4,"color":"black"},
 "encoding":{
  "x":{"field":"x","type":"quantitative","scale":{"domain":[0,70],"nice":false,"zero":false},"axis":null},
  "y":{"field":"y","type":"quantitative","scale":{"domain":[-3,0.5],"nice":false,"zero":false},"axis":null},
  "text":{"field":"t"}
 }},
{"data":{"values":[{"t":"5","x":6.0,"y":0.5}]},
 "mark":{"type":"text","font":"Liberation Sans","fontSize":9,"align":"left","baseline":"alphabetic","dy":-13,"color":"black"},
 "encoding":{
  "x":{"field":"x","type":"quantitative","scale":{"domain":[0,70],"nice":false,"zero":false},"axis":null},
  "y":{"field":"y","type":"quantitative","scale":{"domain":[-3,0.5],"nice":false,"zero":false},"axis":null},
  "text":{"field":"t"}
 }}
],
"resolve":{"axis":{"x":"independent","y":"independent"}}
}
